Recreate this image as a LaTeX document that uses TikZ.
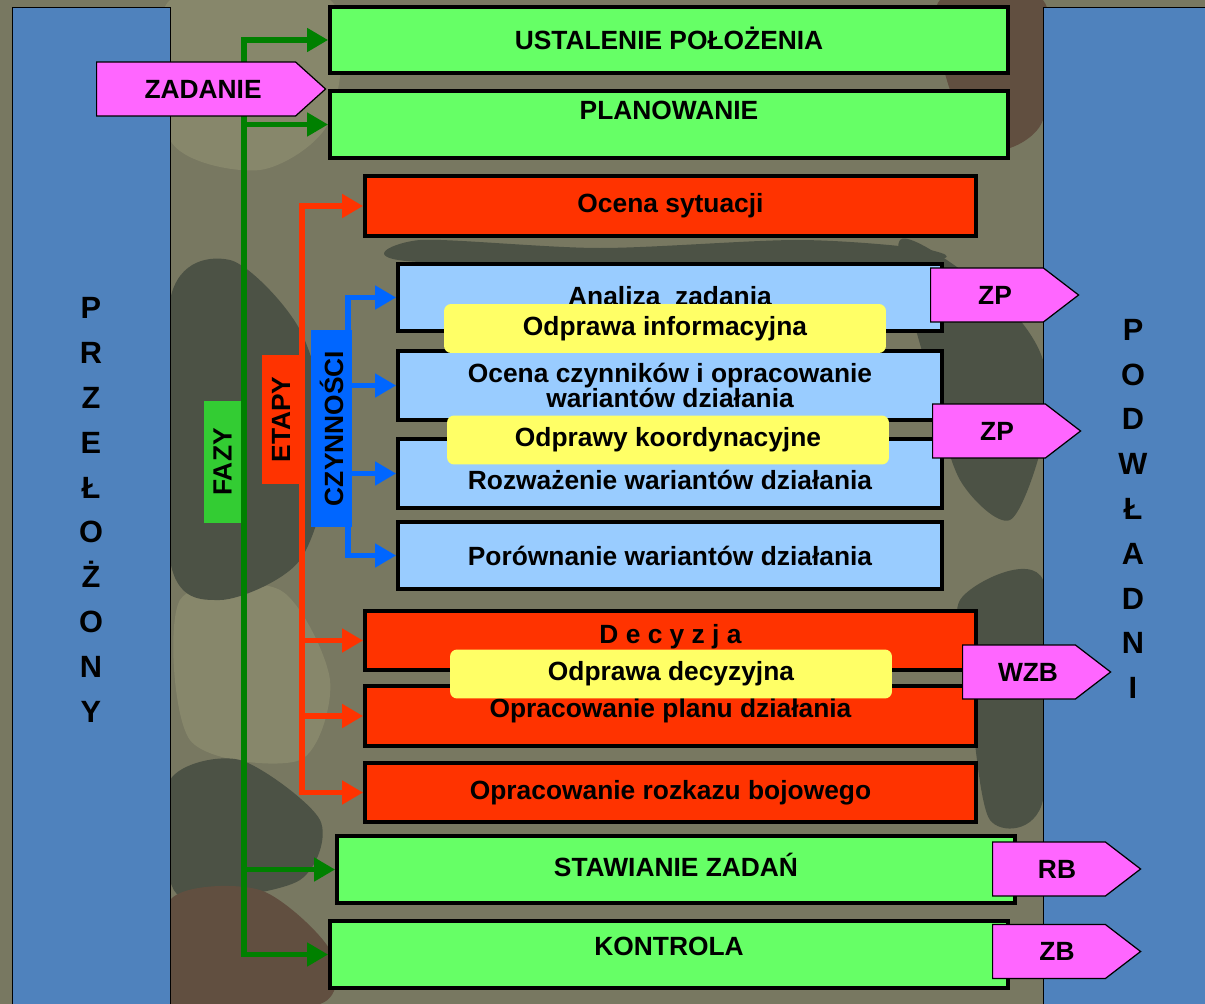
\documentclass[tikz,border=0pt]{standalone}
\usepackage{fontspec}
\setmainfont{Liberation Sans}
\usetikzlibrary{arrows.meta,shapes.symbols}
\definecolor{camo}{rgb}{0.47,0.47,0.38}
\definecolor{camodark}{rgb}{0.30,0.32,0.27}
\definecolor{camobrown}{rgb}{0.38,0.31,0.25}
\definecolor{camolight}{rgb}{0.53,0.53,0.42}
\definecolor{panel}{rgb}{0.31,0.51,0.74}
\definecolor{gbox}{rgb}{0.4,1,0.4}
\definecolor{rbox}{rgb}{1,0.2,0}
\definecolor{bbox}{rgb}{0.6,0.8,1}
\definecolor{ybox}{rgb}{1,1,0.4}
\definecolor{mag}{rgb}{1,0.4,1}
\definecolor{gron}{rgb}{0,0.5,0}
\definecolor{fazyc}{rgb}{0.2,0.8,0.2}
\definecolor{blu}{rgb}{0,0.4,1}

\tikzset{
  napis/.style={font=\fontsize{15}{14.7}\selectfont\bfseries},
  box/.style={draw=black, line width=2.2pt, inner sep=0pt, napis, align=center},
  faza/.style={box, fill=gbox},
  etap/.style={box, fill=rbox},
  czyn/.style={box, fill=bbox},
  odprawa/.style={fill=ybox, rounded corners=4pt, minimum width=8.84cm, minimum height=0.98cm, napis},
  znak/.style={shape=signal, signal to=east, signal from=nowhere, signal pointer angle=75, draw=black, line width=0.7pt, fill=mag, minimum width=2.96cm, minimum height=1.08cm, inner sep=0pt, anchor=west, napis},
  opis/.style={rotate=90, inner sep=0pt, napis},
  garr/.style={gron, line width=3pt, -{Triangle[length=12pt,width=13pt]}},
  rarr/.style={rbox, line width=3pt, -{Triangle[length=12pt,width=13pt]}},
  barr/.style={blu, line width=3pt, -{Triangle[length=12pt,width=13pt]}},
  litery/.style={align=center, font=\fontsize{17.5}{25.5}\selectfont\bfseries}
}

\begin{document}
\begin{tikzpicture}[x=0.02cm, y=-0.02cm]
\useasboundingbox (0,0) rectangle (1205,1004);
% tlo (kamuflaz)
\fill[camo] (0,0) rectangle (1205,1004);
\fill[camolight] plot[smooth cycle] coordinates {(170,0) (330,0) (330,120) (260,170) (170,140)};
\fill[camolight] plot[smooth cycle] coordinates {(180,600) (280,590) (330,680) (300,760) (190,740)};
\fill[camodark] plot[smooth cycle] coordinates {(170,300) (230,260) (300,330) (330,450) (300,560) (220,600) (170,560)};
\fill[camodark] plot[smooth cycle] coordinates {(170,780) (240,760) (320,820) (300,880) (200,900) (170,880)};
\fill[camobrown] plot[smooth cycle] coordinates {(170,900) (260,890) (330,950) (320,1004) (170,1004)};
\fill[camobrown] plot[smooth cycle] coordinates {(940,0) (1043,0) (1043,120) (990,150) (950,90)};
\fill[camodark] plot[smooth cycle] coordinates {(900,240) (1000,300) (1043,360) (1043,440) (1010,520) (960,480) (930,380)};
\fill[camodark] plot[smooth cycle] coordinates {(960,600) (1043,580) (1043,800) (990,820) (970,700)};
\fill[camodark] plot[smooth cycle] coordinates {(420,240) (600,248) (800,240) (930,250) (900,262) (420,262)};

% przelozony / podwladni
\node[draw=black, fill=panel, minimum width=3.16cm, minimum height=20.12cm, inner sep=0pt] (przel) at (91,510) {};
\node[draw=black, fill=panel, minimum width=3.44cm, minimum height=20.12cm, inner sep=0pt] (podwl) at (1129,510) {};
\node[litery] (przel-t) at (91,510) {P\\R\\Z\\E\\Ł\\O\\Ż\\O\\N\\Y};
\node[litery] (podwl-t) at (1133,509) {P\\O\\D\\W\\Ł\\A\\D\\N\\I};

% fazy
\node[faza, minimum width=13.56cm, minimum height=1.32cm, label={[napis, yshift=1pt]center:USTALENIE POŁOŻENIA}] (ustal) at (669,40) {};
\node[faza, minimum width=13.56cm, minimum height=1.34cm, label={[napis, yshift=8pt]center:PLANOWANIE}] (plan) at (669,124.5) {};
\node[faza, minimum width=13.56cm, minimum height=1.34cm, label={[napis, yshift=2.5pt]center:STAWIANIE ZADAŃ}] (staw) at (676,869.5) {};
\node[faza, minimum width=13.56cm, minimum height=1.34cm, label={[napis, yshift=4.8pt]center:KONTROLA}] (kontr) at (669,954.5) {};

% etapy
\node[etap, minimum width=12.22cm, minimum height=1.2cm] (ocena) at (670.5,206) {Ocena sytuacji};
\node[etap, minimum width=12.22cm, minimum height=1.18cm, label={[napis, yshift=2pt]center:D e c y z j a}] (decyz) at (670.5,640.5) {};
\node[etap, minimum width=12.22cm, minimum height=1.2cm, label={[napis, yshift=3pt]center:Opracowanie planu działania}] (pland) at (670.5,716) {};
\node[etap, minimum width=12.22cm, minimum height=1.18cm] (rozkaz) at (670.5,792.5) {Opracowanie rozkazu bojowego};

% czynnosci
\node[czyn, minimum width=10.88cm, minimum height=1.34cm, label={[napis, yshift=1pt]center:Analiza~~zadania}] (analiza) at (670,297.5) {};
\node[czyn, minimum width=10.88cm, minimum height=1.38cm] (czynn) at (670,385.5) {Ocena czynników i opracowanie\\wariantów działania};
\node[czyn, minimum width=10.88cm, minimum height=1.38cm, label={[napis, yshift=-3.7pt]center:Rozważenie wariantów działania}] (rozw) at (670,473.5) {};
\node[czyn, minimum width=10.88cm, minimum height=1.34cm] (porown) at (670,555.5) {Porównanie wariantów działania};

% linie
\coordinate (gtop) at (244,40);
\coordinate (gbot) at (244,954.5);
\draw[garr] (gbot) |- (ustal.west);
\draw[garr] (gtop) |- (kontr.west);
\draw[garr] (gtop |- plan.west) -- (plan.west);
\draw[garr] (gtop |- staw.west) -- (staw.west);
\coordinate (rtop) at (302,206);
\coordinate (rbot) at (302,792.5);
\draw[rarr] (rbot) |- (ocena.west);
\draw[rarr] (rtop) |- (rozkaz.west);
\draw[rarr] (rtop |- decyz.west) -- (decyz.west);
\draw[rarr] (rtop |- pland.west) -- (pland.west);
\coordinate (btop) at (348,297.5);
\coordinate (bbot) at (348,555.5);
\draw[barr] (bbot) |- (analiza.west);
\draw[barr] (btop) |- (porown.west);
\draw[barr] (btop |- czynn.west) -- (czynn.west);
\draw[barr] (btop |- rozw.west) -- (rozw.west);

\node[opis, fill=fazyc, minimum width=2.44cm, minimum height=0.74cm] (fazy) at (222.5,462) {FAZY};
\node[opis, fill=rbox, minimum width=2.58cm, minimum height=0.76cm] (etapy) at (281,419.5) {ETAPY};
\node[opis, fill=blu, minimum width=3.94cm, minimum height=0.82cm] (czynnosci) at (331.5,428.5) {CZYNNOŚCI};

% odprawy
\node[odprawa] (infor) at (665,328.5) {Odprawa informacyjna};
\node[odprawa] (koord) at (668,440) {Odprawy koordynacyjne};
\node[odprawa] (decyzja) at (671,674) {Odprawa decyzyjna};

% znaki
\node[znak, minimum width=4.58cm, signal pointer angle=84] (zadanie) at (96,89) {\kern0.28cm ZADANIE};
\node[znak] (zp1) at (930,295) {\kern0.32cm ZP};
\node[znak] (zp2) at (932,431) {\kern0.32cm ZP};
\node[znak] (wzb) at (962,672) {\kern0.36cm WZB};
\node[znak] (rb) at (992,869) {\kern0.32cm RB};
\node[znak] (zb) at (992,951.5) {\kern0.32cm ZB};
\end{tikzpicture}
\end{document}
